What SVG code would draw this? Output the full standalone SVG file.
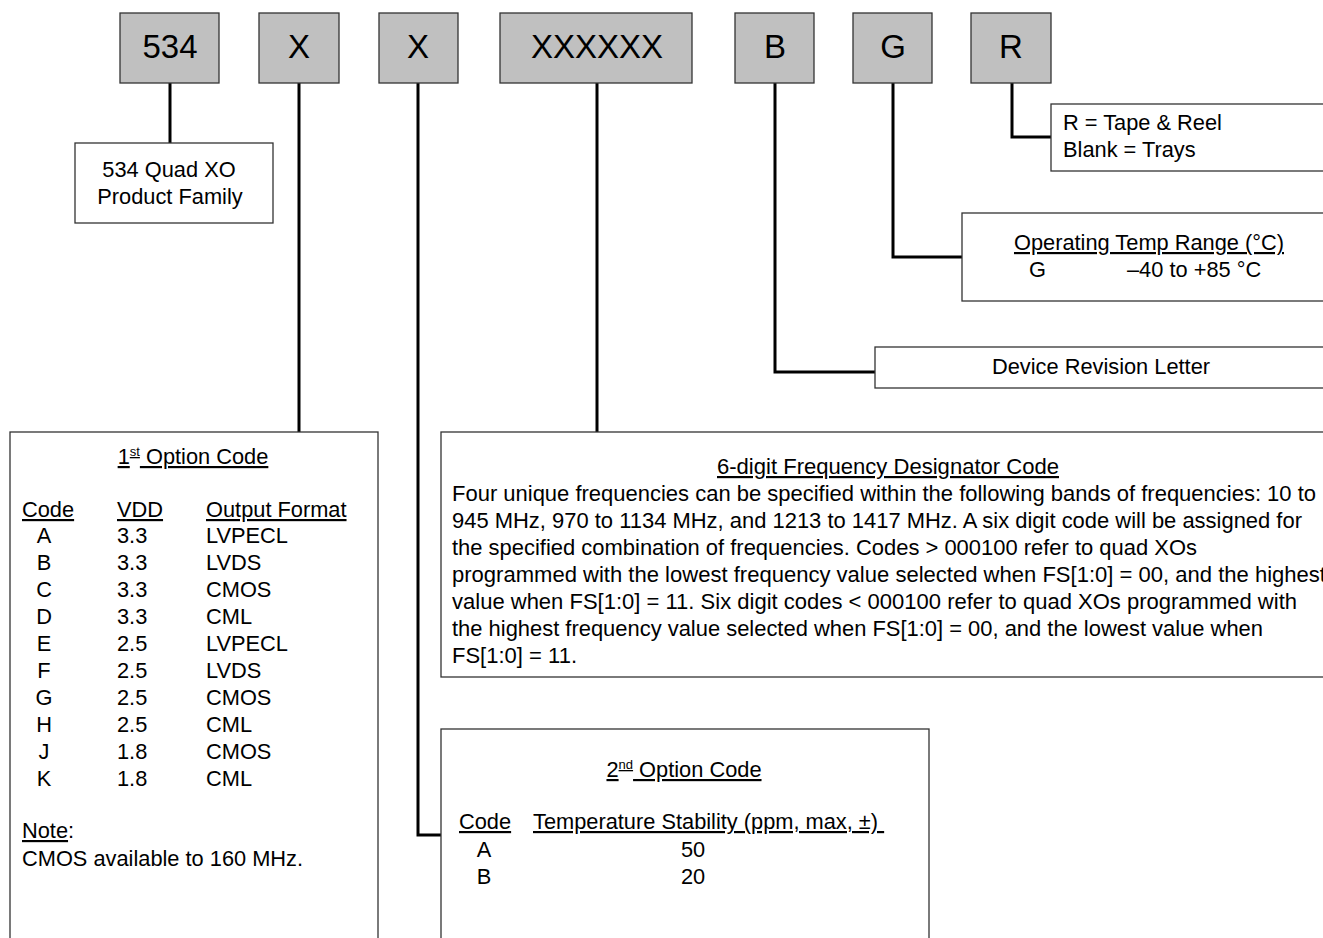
<svg xmlns="http://www.w3.org/2000/svg" width="1323" height="938" viewBox="0 0 1323 938">
<style>
text{font-family:"Liberation Sans",Arial,sans-serif;font-size:21.8px;fill:#000}
.code rect{fill:#c0c0c0;stroke:#333;stroke-width:1.3}
.code text{font-size:33px;text-anchor:middle}
.box{fill:#fff;stroke:#333;stroke-width:1.3}
.c{text-anchor:middle}
.u{text-decoration:underline}
.conn{fill:none;stroke:#000;stroke-width:3}
.sup{font-size:13px}
</style>
<rect width="1323" height="938" fill="#fff"/>
<g id="connectors">
<path class="conn" d="M170,83 V143"/>
<path class="conn" d="M299,83 V432"/>
<path class="conn" d="M418,83 V835 H441"/>
<path class="conn" d="M597,83 V432"/>
<path class="conn" d="M775,83 V372 H875"/>
<path class="conn" d="M893,83 V257 H962"/>
<path class="conn" d="M1012,83 V137 H1051"/>
</g>
<g id="code-534" class="code"><rect x="120" y="13" width="99" height="70"/><text x="170" y="58">534</text></g>
<g id="code-x1" class="code"><rect x="259" y="13" width="80" height="70"/><text x="299" y="58">X</text></g>
<g id="code-x2" class="code"><rect x="379" y="13" width="79" height="70"/><text x="418" y="58">X</text></g>
<g id="code-xxxxxx" class="code"><rect x="500" y="13" width="192" height="70"/><text x="597" y="58">XXXXXX</text></g>
<g id="code-b" class="code"><rect x="735" y="13" width="79" height="70"/><text x="775" y="58">B</text></g>
<g id="code-g" class="code"><rect x="853" y="13" width="79" height="70"/><text x="893" y="58">G</text></g>
<g id="code-r" class="code"><rect x="971" y="13" width="80" height="70"/><text x="1011" y="58">R</text></g>

<g id="family">
<rect class="box" x="75" y="143" width="198" height="80"/>
<text class="c" x="169" y="177">534 Quad XO</text>
<text class="c" x="170" y="204">Product Family</text>
</g>

<g id="packing">
<rect class="box" x="1051" y="104" width="290" height="67"/>
<text x="1063" y="130">R = Tape &amp; Reel</text>
<text x="1063" y="157">Blank = Trays</text>
</g>

<g id="temp">
<rect class="box" x="962" y="213" width="380" height="88"/>
<text class="c u" x="1149" y="250">Operating Temp Range (°C)</text>
<text x="1029" y="277">G</text>
<text x="1127" y="277">–40 to +85 °C</text>
</g>

<g id="revision">
<rect class="box" x="875" y="347" width="460" height="41"/>
<text class="c" x="1101" y="374">Device Revision Letter</text>
</g>

<g id="option1">
<rect class="box" x="10" y="432" width="368" height="520"/>
<text class="c" x="193" y="464"><tspan class="u">1<tspan class="sup" dy="-8">st</tspan><tspan dy="8"> Option Code</tspan></tspan></text>
<text class="u" x="22" y="517">Code</text>
<text class="u" x="117" y="517">VDD</text>
<text class="u" x="206" y="517">Output Format</text>
<g class="c">
<text x="44" y="543">A</text><text x="44" y="570">B</text><text x="44" y="597">C</text><text x="44" y="624">D</text><text x="44" y="651">E</text>
<text x="44" y="678">F</text><text x="44" y="705">G</text><text x="44" y="732">H</text><text x="44" y="759">J</text><text x="44" y="786">K</text>
</g>
<text x="117" y="543">3.3</text><text x="117" y="570">3.3</text><text x="117" y="597">3.3</text><text x="117" y="624">3.3</text><text x="117" y="651">2.5</text>
<text x="117" y="678">2.5</text><text x="117" y="705">2.5</text><text x="117" y="732">2.5</text><text x="117" y="759">1.8</text><text x="117" y="786">1.8</text>
<text x="206" y="543">LVPECL</text><text x="206" y="570">LVDS</text><text x="206" y="597">CMOS</text><text x="206" y="624">CML</text><text x="206" y="651">LVPECL</text>
<text x="206" y="678">LVDS</text><text x="206" y="705">CMOS</text><text x="206" y="732">CML</text><text x="206" y="759">CMOS</text><text x="206" y="786">CML</text>
<text x="22" y="838"><tspan class="u">Note</tspan>:</text>
<text x="22" y="866">CMOS available to 160 MHz.</text>
</g>

<g id="frequency">
<rect class="box" x="441" y="432" width="900" height="245"/>
<text class="c u" x="888" y="474" textLength="342" lengthAdjust="spacingAndGlyphs">6-digit Frequency Designator Code</text>
<text x="452" y="501" textLength="864" lengthAdjust="spacingAndGlyphs">Four unique frequencies can be specified within the following bands of frequencies: 10 to</text>
<text x="452" y="528" textLength="850" lengthAdjust="spacingAndGlyphs">945 MHz, 970 to 1134 MHz, and 1213 to 1417 MHz.  A six digit code will be assigned for</text>
<text x="452" y="555" textLength="745" lengthAdjust="spacingAndGlyphs">the specified combination of frequencies. Codes &gt; 000100 refer to quad XOs</text>
<text x="452" y="582" textLength="874" lengthAdjust="spacingAndGlyphs">programmed with the lowest frequency value selected when FS[1:0] = 00, and the highest</text>
<text x="452" y="609" textLength="845" lengthAdjust="spacingAndGlyphs">value when FS[1:0] = 11. Six digit codes &lt; 000100 refer to quad XOs programmed with</text>
<text x="452" y="636" textLength="811" lengthAdjust="spacingAndGlyphs">the highest frequency value selected when FS[1:0] = 00, and the lowest value when</text>
<text x="452" y="663" textLength="125" lengthAdjust="spacingAndGlyphs">FS[1:0] = 11.</text>
</g>

<g id="option2">
<rect class="box" x="441" y="729" width="488" height="220"/>
<text class="c" x="684" y="777"><tspan class="u">2<tspan class="sup" dy="-8">nd</tspan><tspan dy="8"> Option Code</tspan></tspan></text>
<text class="u" x="459" y="829">Code</text>
<text class="u" x="533" y="829" xml:space="preserve">Temperature Stability (ppm, max, ±) </text>
<text class="c" x="484" y="857">A</text>
<text class="c" x="693" y="857">50</text>
<text class="c" x="484" y="884">B</text>
<text class="c" x="693" y="884">20</text>
</g>
</svg>
